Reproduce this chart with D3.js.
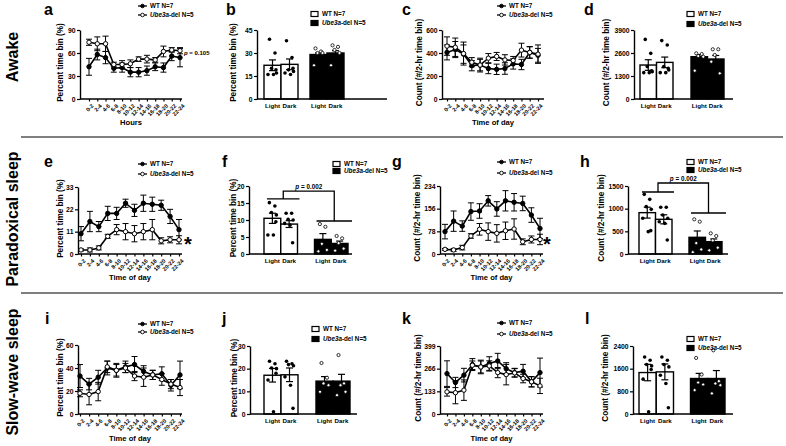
<!DOCTYPE html>
<html>
<head>
<meta charset="utf-8">
<title>Ube3a sleep figure</title>
<script src="https://cdn.jsdelivr.net/npm/d3@7/dist/d3.min.js"></script>
<style>
    body { margin: 0; background: #fff; }
    svg text { font-family: "Liberation Sans", Arial, sans-serif; font-weight: bold; fill: #000; }
</style>
</head>
<body>
<svg id="fig" width="786" height="446"></svg>
<script>
    // ---- data ----
    var bins = ["0-2","2-4","4-6","6-8","8-10","10-12","12-14","14-16","16-18","18-20","20-22","22-24"];
    var lightDark = ["Light", "Dark"];

    // a: awake, percent
    var awakePctWT     = [42, 58, 54, 40, 41, 35, 35, 37, 42, 41, 56, 54];
    var awakePctWTerr  = [11, 7, 8, 5, 6, 6, 6, 6, 5, 6, 6, 12];
    var awakePctUbe    = [74, 72, 72, 45, 45, 46, 52, 52, 51, 62, 64, 63];
    var awakePctUbeErr = [4, 9, 10, 3, 5, 5, 3, 5, 3, 7, 3, 4];
    // c: awake, count
    var awakeCntWT     = [405, 430, 390, 290, 295, 265, 258, 265, 305, 300, 405, 380];
    var awakeCntWTerr  = [65, 70, 80, 45, 50, 45, 45, 50, 45, 45, 50, 60];
    var awakeCntUbe    = [460, 450, 395, 320, 295, 355, 370, 340, 335, 425, 405, 390];
    var awakeCntUbeErr = [80, 80, 100, 40, 60, 40, 35, 45, 35, 60, 50, 80];
    // e: paradoxical, percent
    var parPctWT     = [10, 16, 13.5, 20, 20, 25, 21.5, 25, 24.5, 24, 18.5, 12];
    var parPctWTerr  = [3.5, 5, 2.5, 3.5, 3, 2, 3, 4, 3.5, 2.5, 3.5, 5];
    var parPctUbe    = [2, 2, 3, 8.7, 12, 11, 10, 11, 12, 6.5, 7, 7];
    var parPctUbeErr = [0.5, 1, 1, 1, 2.5, 4, 4, 4, 5, 1.5, 1.5, 2];
    // g: paradoxical, count
    var parCntWT     = [77, 113, 96, 146, 148, 183, 155, 183, 178, 174, 134, 88];
    var parCntWTerr  = [25, 35, 18, 30, 25, 18, 25, 35, 30, 25, 25, 35];
    var parCntUbe    = [16, 14, 22, 62, 85, 77, 71, 80, 86, 42, 50, 50];
    var parCntUbeErr = [3, 5, 8, 8, 20, 30, 30, 30, 35, 10, 12, 18];
    // i: slow-wave, percent
    var swsPctWT     = [33, 26, 32, 40, 38, 41, 43, 37, 34, 35, 25, 34];
    var swsPctWTerr  = [10, 5, 6, 6, 6, 5, 7, 5, 4, 6, 5, 12];
    var swsPctUbe    = [18, 17, 19.5, 41, 38, 40, 33, 32, 34, 30, 26, 23];
    var swsPctUbeErr = [3, 9, 8, 5, 5, 4, 4, 8, 4, 5, 4, 7];
    // k: slow-wave, count
    var swsCntWT     = [237, 185, 228, 290, 276, 296, 311, 266, 243, 251, 189, 243];
    var swsCntWTerr  = [75, 30, 40, 35, 40, 40, 45, 35, 25, 40, 30, 85];
    var swsCntUbe    = [130, 125, 140, 286, 276, 282, 243, 231, 241, 208, 189, 165];
    var swsCntUbeErr = [25, 65, 60, 25, 35, 30, 30, 60, 25, 25, 30, 45];

    // b
    var bWT = [22, 22.6], bWTerr = [3.5, 3.5], bUbe = [29, 30], bUbeErr = [1, 1.5];
    var bWTpts  = [[39, 30, 20, 17, 16, 16, 19], [38, 27, 19, 18, 17, 16, 20]];
    var bUbePts = [[33, 31, 30, 30, 22], [35, 34, 32, 30, 22]];
    // d
    var dWT = [1920, 2070], dWTerr = [300, 300], dUbe = [2390, 2260], dUbeErr = [120, 200];
    var dWTpts  = [[3370, 2580, 1830, 1540, 1490, 1490, 1600], [3300, 3050, 1830, 1640, 1490, 1490, 1730]];
    var dUbePts = [[2580, 2540, 2430, 2390, 1600], [2810, 2810, 2490, 1450, 2110]];
    // f
    var fWT = [10.5, 8.8], fWTerr = [1.5, 1.0], fUbe = [4.3, 3.1], fUbeErr = [1.7, 0.7];
    var fWTpts  = [[15.1, 14.1, 12.2, 11.5, 5.6, 5.6, 9.5], [12, 12, 10.2, 10, 9, 8.5, 3.3]];
    var fUbePts = [[8.8, 8, 3, 1.2, 0.8], [5.3, 4.6, 3.2, 1.6, 1.0]];
    // h
    var hWT = [912, 765], hWTerr = [120, 100], hUbe = [368, 272], hUbeErr = [140, 60];
    var hWTpts  = [[1316, 1206, 1044, 985, 790, 493, 515], [1030, 1030, 860, 787, 713, 676, 309]];
    var hUbePts = [[765, 713, 240, 100, 40], [456, 397, 300, 140, 80]];
    // j
    var jWT = [17.1, 17.3], jWTerr = [3, 3], jUbe = [14.5, 14.5], jUbeErr = [2, 3];
    var jWTpts  = [[23.3, 22.2, 20.3, 20, 15, 1, 18], [23.3, 22.2, 21.8, 21.3, 16.4, 12.7, 2.5]];
    var jUbePts = [[22.5, 16, 13.5, 12.7, 9.8], [26, 13.5, 12.7, 9.8, 8.3]];
    // l
    var lWT = [1463, 1487], lWTerr = [290, 280], lUbe = [1253, 1253], lUbeErr = [180, 280];
    var lWTpts  = [[2014, 1897, 1745, 1698, 1230, 82, 1570], [2014, 1897, 1745, 1663, 1370, 1077, 222]];
    var lUbePts = [[1979, 1393, 1112, 1042, 843], [2248, 1159, 1077, 1018, 726]];

    // ---- drawing ----
    var svg = d3.select("#fig");
    var jit = [-3, 2.5, -1, 4, -4.5, 1, 3.5];

    function styleAxis(g) {
        g.attr("font-size", 6.8);
        g.select(".domain").attr("stroke", "#000").attr("stroke-width", 1.4);
        g.selectAll(".tick line").attr("stroke", "#000").attr("stroke-width", 1.2);
    }

    function yTitle(g, text, x, mid) {
        g.append("text")
            .attr("transform", "translate(" + x + "," + mid + ") rotate(-90)")
            .attr("text-anchor", "middle").attr("dy", "0.35em")
            .attr("font-size", 8.2).text(text);
    }

    function letter(t, x, y) {
        svg.append("text").attr("x", x).attr("y", y).attr("font-size", 16).text(t);
    }

    function ubeLabel(sel) {
        sel.append("tspan").attr("font-style", "italic").text("Ube3a");
        sel.append("tspan").text("-del N=5");
    }

    function errBar(g, cx, y1, y2, cap) {
        g.append("line").attr("x1", cx).attr("x2", cx).attr("y1", y1).attr("y2", y2);
        g.append("line").attr("x1", cx - cap).attr("x2", cx + cap).attr("y1", y1).attr("y2", y1);
        g.append("line").attr("x1", cx - cap).attr("x2", cx + cap).attr("y1", y2).attr("y2", y2);
    }

    function series(g, x, y, vals, errs, fill) {
        var line = d3.line().x(function(d, i){ return x(bins[i]); }).y(function(d){ return y(d); });
        g.append("path").datum(vals).attr("d", line)
            .attr("fill", "none").attr("stroke", "#000").attr("stroke-width", 1.6);
        var eb = g.append("g").attr("stroke", "#000").attr("stroke-width", 1);
        vals.forEach(function(v, i){
            errBar(eb, x(bins[i]), y(Math.max(0, v - errs[i])), y(v + errs[i]), 3);
        });
        g.append("g").selectAll("circle").data(vals).join("circle")
            .attr("cx", function(d, i){ return x(bins[i]); })
            .attr("cy", function(d){ return y(d); })
            .attr("r", 2.2).attr("fill", fill).attr("stroke", "#000").attr("stroke-width", 1);
    }

    function lineChart(L, wt, wtErr, ube, ubeErr) {
        var g = svg.append("g");
        var x = d3.scalePoint().domain(bins).range(L.px);
        var y = d3.scaleLinear().domain([0, L.max]).range([L.bottom, L.top]);

        g.append("g").attr("transform", "translate(" + L.ax + ",0)")
            .call(d3.axisLeft(y).tickValues(L.ticks).tickFormat(d3.format("d"))
                .tickSize(3).tickSizeOuter(0).tickPadding(1.5))
            .call(styleAxis);
        var xa = g.append("g").attr("transform", "translate(0," + L.bottom + ")")
            .call(d3.axisBottom(x).tickSize(2.5).tickSizeOuter(0))
            .call(styleAxis);
        xa.select(".domain").attr("d", "M" + L.ax + ",0H" + L.right);
        xa.selectAll(".tick text")
            .attr("x", 0).attr("y", 0).attr("dy", "0.35em")
            .attr("transform", "translate(3,6) rotate(-45)")
            .style("text-anchor", "end").attr("font-size", 5.6);

        series(g, x, y, wt, wtErr, "#000");
        series(g, x, y, ube, ubeErr, "#fff");

        yTitle(g, L.ylab, L.ylabX, (L.top + L.bottom) / 2 - 2);
        g.append("text").attr("x", (L.ax + L.right) / 2).attr("y", L.xlabY)
            .attr("text-anchor", "middle").attr("font-size", 7.6).text(L.xlab);

        // legend
        [["#000", L.legY[0]], ["#fff", L.legY[1]]].forEach(function(it, k){
            var lg = g.append("g").attr("transform", "translate(" + L.legX + "," + it[1] + ")");
            lg.append("line").attr("x1", 0).attr("x2", 9).attr("stroke", "#000").attr("stroke-width", 1.3);
            lg.append("circle").attr("cx", 4.5).attr("r", 1.8).attr("fill", it[0])
                .attr("stroke", "#000").attr("stroke-width", 0.9);
            var t = lg.append("text").attr("x", 12).attr("dy", "0.35em").attr("font-size", 6.3);
            if (k === 0) t.text("WT N=7"); else ubeLabel(t);
        });
        letter(L.letter, L.lx, L.ly);
        return {x: x, y: y, g: g};
    }

    function barChart(B, wt, wtErr, ube, ubeErr, wtPts, ubePts) {
        var g = svg.append("g");
        var y = d3.scaleLinear().domain([0, B.max]).range([B.bottom, B.top]);
        var step = (B.bars[1] - B.bars[0] + B.gap) / 2;
        var grp = d3.scaleBand().domain(["WT", "Ube"]).range(B.bars).paddingInner(B.gap / step);
        var sub = d3.scaleBand().domain(lightDark).range([0, grp.bandwidth()]);
        var bw = sub.bandwidth();

        var groups = [
            {key: "WT", vals: wt, errs: wtErr, pts: wtPts, fill: "#fff", dot: "#000"},
            {key: "Ube", vals: ube, errs: ubeErr, pts: ubePts, fill: "#000", dot: "#fff"}
        ];
        groups.forEach(function(gr){
            lightDark.forEach(function(c, i){
                var x0 = grp(gr.key) + sub(c);
                var cx = x0 + bw / 2;
                g.append("rect").attr("x", x0).attr("y", y(gr.vals[i]))
                    .attr("width", bw).attr("height", y(0) - y(gr.vals[i]))
                    .attr("fill", gr.fill).attr("stroke", "#000").attr("stroke-width", 1.4);
                var eb = g.append("g").attr("stroke", "#000").attr("stroke-width", 1.2);
                errBar(eb, cx, y(gr.vals[i] - gr.errs[i]), y(gr.vals[i] + gr.errs[i]), 3.5);
                g.append("g").selectAll("circle").data(gr.pts[i]).join("circle")
                    .attr("cx", function(d, k){ return cx + jit[k]; })
                    .attr("cy", function(d){ return y(d); })
                    .attr("r", gr.key === "WT" ? 1.8 : 1.6).attr("fill", gr.dot)
                    .attr("stroke", "#000").attr("stroke-width", gr.key === "WT" ? 0 : 0.8);
                g.append("text").attr("x", cx).attr("y", B.bottom + 9)
                    .attr("text-anchor", "middle").attr("font-size", 6.2).text(c);
            });
        });

        g.append("g").attr("transform", "translate(" + B.ax + ",0)")
            .call(d3.axisLeft(y).tickValues(B.ticks).tickFormat(d3.format("d"))
                .tickSize(3).tickSizeOuter(0).tickPadding(1.5))
            .call(styleAxis);
        g.append("line").attr("x1", B.ax).attr("x2", B.right)
            .attr("y1", B.bottom).attr("y2", B.bottom)
            .attr("stroke", "#000").attr("stroke-width", 1.4);

        yTitle(g, B.ylab, B.ylabX, (B.top + B.bottom) / 2 - 2);

        // legend
        [["#fff", B.legY[0]], ["#000", B.legY[1]]].forEach(function(it, k){
            var lg = g.append("g").attr("transform", "translate(" + B.legX + "," + it[1] + ")");
            lg.append("rect").attr("x", 0).attr("y", -2.5).attr("width", 7).attr("height", 5)
                .attr("fill", it[0]).attr("stroke", "#000").attr("stroke-width", 1.2);
            var t = lg.append("text").attr("x", 11).attr("dy", "0.35em").attr("font-size", 6.3);
            if (k === 0) t.text("WT N=7"); else ubeLabel(t);
        });

        if (B.sig) {
            var wl = grp("WT") + 3, wr = grp("WT") + 2 * bw + 2;
            var ul = grp("Ube") + 2, ur = grp("Ube") + 2 * bw + 4;
            var wm = (wl + wr) / 2, um = (ul + ur) / 2;
            var yw = y(B.sig.wt), yu = y(B.sig.ube), yt = y(B.sig.top);
            g.append("path")
                .attr("d", "M" + wl + "," + yw + "H" + wr + "M" + wm + "," + yw + "V" + yt + "H" + um +
                           "V" + yu + "M" + ul + "," + yu + "H" + ur)
                .attr("fill", "none").attr("stroke", "#000").attr("stroke-width", 1.3);
            var st = g.append("text").attr("x", (wm + um) / 2).attr("y", yt - 2)
                .attr("text-anchor", "middle").attr("font-size", 6.3);
            st.append("tspan").attr("font-style", "italic").text("p");
            st.append("tspan").text(" = " + B.sig.p);
        }
        letter(B.letter, B.lx, B.ly);
    }

    // row titles and separators
    [["Awake", 57], ["Paradoxical sleep", 219], ["Slow-wave sleep", 372]].forEach(function(r){
        svg.append("text").attr("transform", "translate(18," + r[1] + ") rotate(-90)")
            .attr("text-anchor", "middle").attr("font-size", 16).text(r[0]);
    });
    [137, 293].forEach(function(yy){
        svg.append("line").attr("x1", 21).attr("x2", 783).attr("y1", yy).attr("y2", yy)
            .attr("stroke", "#000").attr("stroke-width", 1.2);
    });

    var pctLab = "Percent time bin (%)", cntLab = "Count (#/2-hr time bin)";

    // ---- line panels ----
    var pa = lineChart({ax: 80, right: 182, top: 30, bottom: 99, px: [89, 180], max: 90, ticks: [0, 30, 60, 90],
        ylab: pctLab, ylabX: 60, xlab: "Hours", xlabY: 125, letter: "a", lx: 44, ly: 15, legX: 138, legY: [6, 15]},
        awakePctWT, awakePctWTerr, awakePctUbe, awakePctUbeErr);
    var pv = pa.g.append("text").attr("x", 184).attr("y", 55).attr("font-size", 6);
    pv.append("tspan").attr("font-style", "italic").text("p");
    pv.append("tspan").text(" = 0.105");

    lineChart({ax: 442, right: 544, top: 30, bottom: 99, px: [447, 538], max: 600, ticks: [0, 200, 400, 600],
        ylab: cntLab, ylabX: 419, xlab: "Time of day", xlabY: 125, letter: "c", lx: 402, ly: 15, legX: 497, legY: [6, 15]},
        awakeCntWT, awakeCntWTerr, awakeCntUbe, awakeCntUbeErr);

    var pe = lineChart({ax: 78, right: 182, top: 187, bottom: 254, px: [81, 179], max: 33, ticks: [0, 11, 22, 33],
        ylab: pctLab, ylabX: 60, xlab: "Time of day", xlabY: 280, letter: "e", lx: 44, ly: 167, legX: 138, legY: [164, 174]},
        parPctWT, parPctWTerr, parPctUbe, parPctUbeErr);
    pe.g.append("text").attr("x", 184).attr("y", 251).attr("font-size", 20).text("*");

    var pg = lineChart({ax: 440, right: 543, top: 186, bottom: 254, px: [445, 540], max: 234, ticks: [0, 78, 156, 234],
        ylab: cntLab, ylabX: 417, xlab: "Time of day", xlabY: 280, letter: "g", lx: 392, ly: 167, legX: 497, legY: [162, 173]},
        parCntWT, parCntWTerr, parCntUbe, parCntUbeErr);
    pg.g.append("text").attr("x", 543).attr("y", 251).attr("font-size", 20).text("*");

    lineChart({ax: 78, right: 182, top: 345, bottom: 414, px: [80, 180], max: 60, ticks: [0, 20, 40, 60],
        ylab: pctLab, ylabX: 60, xlab: "Time of day", xlabY: 441, letter: "i", lx: 45, ly: 324, legX: 138, legY: [324, 332]},
        swsPctWT, swsPctWTerr, swsPctUbe, swsPctUbeErr);

    lineChart({ax: 440, right: 543, top: 346, bottom: 414, px: [447, 540], max: 399, ticks: [0, 133, 266, 399],
        ylab: cntLab, ylabX: 418, xlab: "Time of day", xlabY: 441, letter: "k", lx: 402, ly: 324, legX: 497, legY: [323, 334]},
        swsCntWT, swsCntWTerr, swsCntUbe, swsCntUbeErr);

    // ---- bar panels ----
    barChart({ax: 257, right: 387, top: 30, bottom: 99, bars: [264, 344], gap: 12, max: 45, ticks: [0, 15, 30, 45],
        ylab: pctLab, ylabX: 233, letter: "b", lx: 226, ly: 15, legX: 311, legY: [14, 23]},
        bWT, bWTerr, bUbe, bUbeErr, bWTpts, bUbePts);

    barChart({ax: 634, right: 733, top: 30, bottom: 99, bars: [640, 724], gap: 18, max: 3900, ticks: [0, 1300, 2600, 3900],
        ylab: cntLab, ylabX: 606, letter: "d", lx: 584, ly: 15, legX: 687, legY: [14, 24]},
        dWT, dWTerr, dUbe, dUbeErr, dWTpts, dUbePts);

    barChart({ax: 249, right: 352, top: 186, bottom: 254, bars: [264, 348], gap: 17, max: 20, ticks: [0, 5, 10, 15, 20],
        ylab: pctLab, ylabX: 233, letter: "f", lx: 222, ly: 167, legX: 333, legY: [164, 171],
        sig: {wt: 16.2, ube: 9.7, top: 18.5, p: "0.002"}},
        fWT, fWTerr, fUbe, fUbeErr, fWTpts, fUbePts);

    barChart({ax: 628, right: 728, top: 186, bottom: 254, bars: [639, 722], gap: 17, max: 1500, ticks: [0, 500, 1000, 1500],
        ylab: cntLab, ylabX: 601, letter: "h", lx: 580, ly: 167, legX: 687, legY: [162, 170],
        sig: {wt: 1368, ube: 904, top: 1566, p: "0.002"}},
        hWT, hWTerr, hUbe, hUbeErr, hWTpts, hUbePts);

    barChart({ax: 250, right: 357, top: 346, bottom: 414, bars: [264, 350], gap: 18, max: 30, ticks: [0, 10, 20, 30],
        ylab: pctLab, ylabX: 234, letter: "j", lx: 222, ly: 324, legX: 312, legY: [329, 339]},
        jWT, jWTerr, jUbe, jUbeErr, jWTpts, jUbePts);

    barChart({ax: 633, right: 733, top: 346, bottom: 414, bars: [639, 725], gap: 17, max: 2400, ticks: [0, 800, 1600, 2400],
        ylab: cntLab, ylabX: 605, letter: "l", lx: 585, ly: 324, legX: 687, legY: [339, 348]},
        lWT, lWTerr, lUbe, lUbeErr, lWTpts, lUbePts);
</script>
</body>
</html>
